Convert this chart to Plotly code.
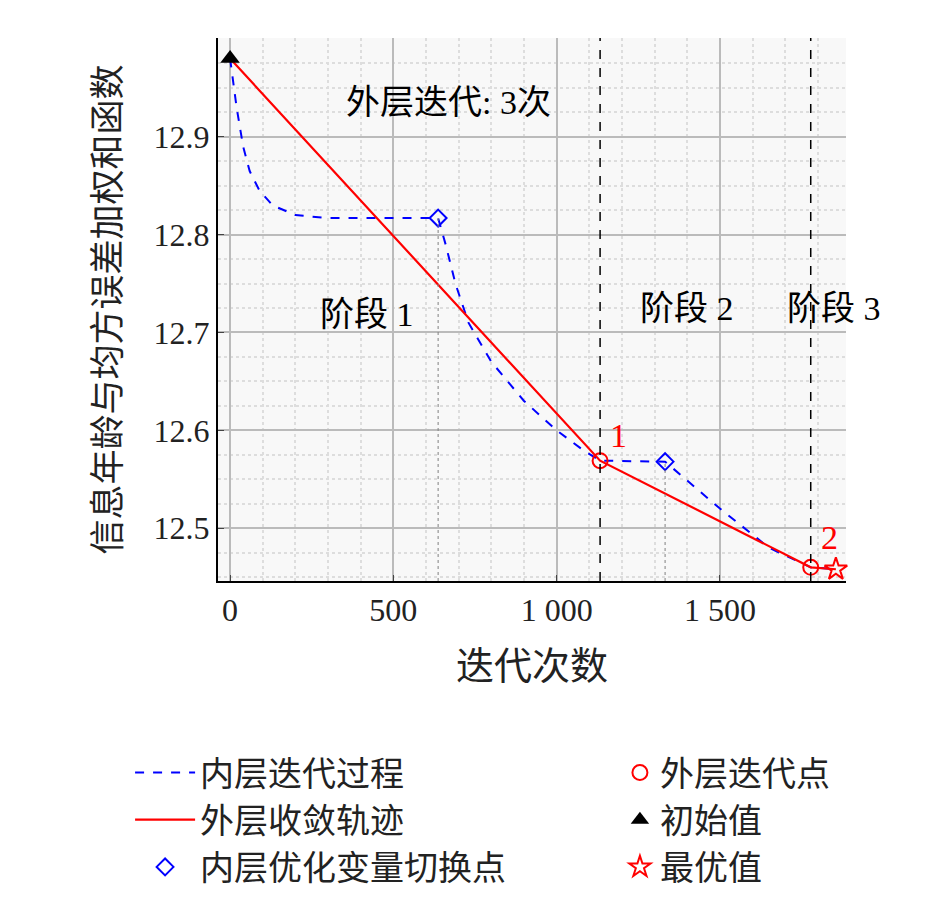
import plotly.graph_objects as go

# inner iteration (blue dashed)
inner_x = [0, 20, 40, 60, 90, 130, 200, 300, 637,
           660, 690, 730, 800, 900, 1000, 1080, 1133,
           1332, 1500, 1650, 1778, 1855]
inner_y = [12.98, 12.93, 12.89, 12.865, 12.845, 12.83, 12.82, 12.817, 12.817,
           12.79, 12.75, 12.71, 12.67, 12.63, 12.60, 12.58, 12.569,
           12.568, 12.52, 12.48, 12.46, 12.458]
# outer convergence path (red)
outer_x = [0, 1133, 1778, 1855]
outer_y = [12.98, 12.569, 12.46, 12.458]
switch_x = [637, 1332]
switch_y = [12.817, 12.568]
outer_pt_x = [1133, 1778]
outer_pt_y = [12.569, 12.46]
init_x, init_y = [0], [12.98]
best_x, best_y = [1855], [12.458]
stage_x = [1133, 1778]

Y0, Y1 = 12.446, 13.001
font = "Liberation Serif, Noto Sans CJK SC"

fig = go.Figure()
# vertical guide lines
for sx in stage_x:
    fig.add_shape(type="line", x0=sx, x1=sx, y0=Y0, y1=Y1, line=dict(color="black", width=1.5, dash="dash"))
for sx, sy in zip(switch_x, switch_y):
    fig.add_shape(type="line", x0=sx, x1=sx, y0=Y0, y1=sy, line=dict(color="gray", width=1, dash="dot"))

fig.add_trace(go.Scatter(x=inner_x, y=inner_y, mode="lines", name="内层迭代过程",
                         line=dict(color="blue", width=2, dash="dash"), legend="legend"))
fig.add_trace(go.Scatter(x=outer_x, y=outer_y, mode="lines", name="外层收敛轨迹",
                         line=dict(color="red", width=2.2), legend="legend"))
fig.add_trace(go.Scatter(x=switch_x, y=switch_y, mode="markers", name="内层优化变量切换点",
                         marker=dict(symbol="diamond-open", size=13, color="blue", line=dict(width=2)), legend="legend"))
fig.add_trace(go.Scatter(x=outer_pt_x, y=outer_pt_y, mode="markers", name="外层迭代点",
                         marker=dict(symbol="circle-open", size=15, color="red", line=dict(width=2)), legend="legend2"))
fig.add_trace(go.Scatter(x=init_x, y=init_y, mode="markers", name="初始值",
                         marker=dict(symbol="triangle-up", size=17, color="black"), legend="legend2", cliponaxis=False))
fig.add_trace(go.Scatter(x=best_x, y=best_y, mode="markers", name="最优值",
                         marker=dict(symbol="star-open", size=17, color="red", line=dict(width=2)), legend="legend2", cliponaxis=False))

ann = [
    ("外层迭代: 3次", 670, 12.935, "black"),
    ("阶段 1", 420, 12.718, "black"),
    ("阶段 2", 1400, 12.725, "black"),
    ("阶段 3", 1850, 12.725, "black"),
    ("1", 1190, 12.595, "red"),
    ("2", 1835, 12.49, "red"),
]
for t, x, y, c in ann:
    fig.add_annotation(x=x, y=y, text=t, showarrow=False, font=dict(size=34, color=c, family=font))

fig.update_layout(
    width=945, height=900,
    margin=dict(l=210, r=107, t=30, b=315),
    plot_bgcolor="#f8f8f8", paper_bgcolor="white",
    font=dict(family=font, size=32, color="#222"),
    legend=dict(x=-0.14, y=-0.30, xanchor="left", yanchor="top", font=dict(size=34), bgcolor="rgba(0,0,0,0)",
                tracegroupgap=0, itemwidth=60),
    legend2=dict(x=0.64, y=-0.30, xanchor="left", yanchor="top", font=dict(size=34), bgcolor="rgba(0,0,0,0)",
                 tracegroupgap=0, itemwidth=30),
)
fig.update_xaxes(range=[-37, 1886], tickvals=[0, 500, 1000, 1500], ticktext=["0", "500", "1 000", "1 500"],
                 showline=True, linecolor="black", linewidth=2, mirror=False, ticks="inside", ticklen=6,
                 gridcolor="#bbbbbb", gridwidth=1.5, zeroline=False,
                 minor=dict(dtick=100, showgrid=True, gridcolor="#dddddd", griddash="dot"),
                 title=dict(text="迭代次数", font=dict(size=38), standoff=25))
fig.update_yaxes(range=[Y0, Y1], tickvals=[12.5, 12.6, 12.7, 12.8, 12.9],
                 showline=True, linecolor="black", linewidth=2, ticks="inside", ticklen=6,
                 gridcolor="#bbbbbb", gridwidth=1.5, zeroline=False,
                 minor=dict(dtick=0.025, showgrid=True, gridcolor="#dddddd", griddash="dot"),
                 title=dict(text="信息年龄与均方误差加权和函数", font=dict(size=35), standoff=22))
fig.write_html("out.html")
